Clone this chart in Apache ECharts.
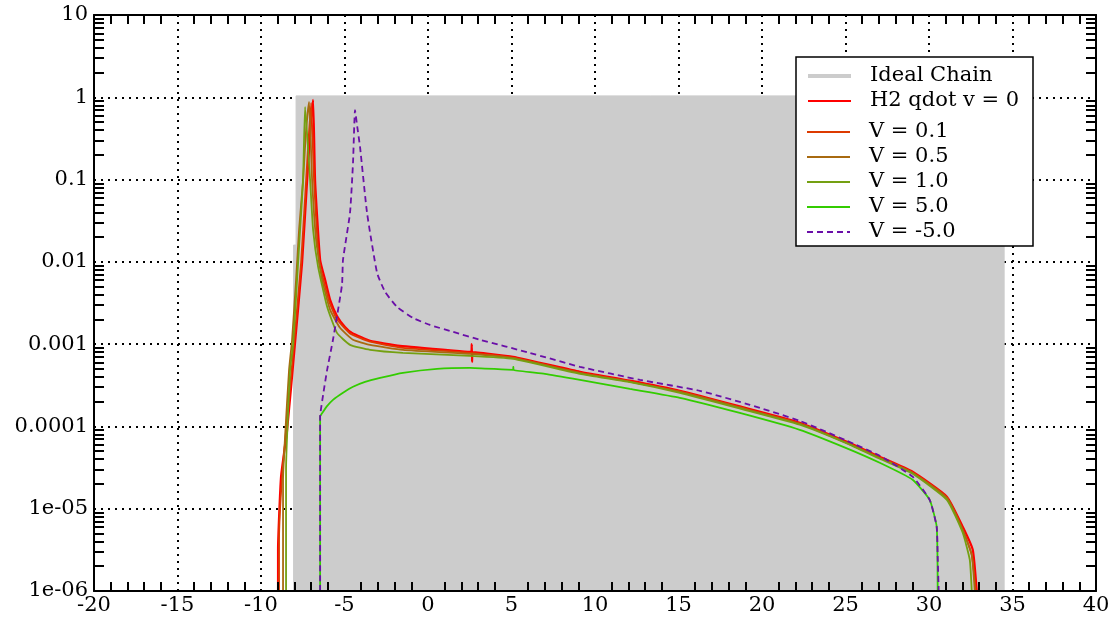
<!DOCTYPE html>
<html><head><meta charset="utf-8">
<script src="https://cdn.jsdelivr.net/npm/echarts@6/dist/echarts.min.js"></script>
<style>html,body{margin:0;padding:0;background:#fff}#c{width:1115px;height:619px}</style>
</head><body><div id="c"></div>
<script>
// ---- data ----
const seriesNames = ['Ideal Chain', 'H2 qdot v = 0', 'V = 0.1', 'V = 0.5', 'V = 1.0', 'V = 5.0', 'V = -5.0'];
const yTickLabels = ['1e-06', '1e-05', '0.0001', '0.001', '0.01', '0.1', '1', '10'];
const xRange = [-20, 40];
const yRange = [1e-6, 10];

const idealChain = [[-8.05,1e-6],[-8.05,0.016],[-7.9,0.016],[-7.9,1.04],[34.5,1.04],[34.5,1e-6]];

const h2v0 = [[-8.98,1e-6],[-8.98,3.17e-6],[-8.80,2.45e-5],[-8.44,8.85e-5],[-7.96,1.04e-3],[-7.54,9.71e-3],
  [-7.24,0.096],[-7.00,0.53],[-6.88,0.93],[-6.76,0.096],[-6.46,0.0106],[-6.16,6.04e-3],[-5.86,3.45e-3],
  [-5.45,2.2e-3],[-4.97,1.62e-3],[-4.55,1.37e-3],[-3.47,1.1e-3],[-1.68,9.53e-4],[2.51,8.05e-4],[2.60,8.0e-4],
  [2.62,1.0e-3],[2.64,6.1e-4],[2.66,8.0e-4],[5.09,7.01e-4],[9.10,4.61e-4],[12.09,3.6e-4],[15.08,2.71e-4],
  [18.67,1.75e-4],[22.26,1.11e-4],[25.01,6.6e-5],[27.05,4.28e-5],[29.02,2.81e-5],[31.07,1.4e-5],
  [32.02,6.04e-6],[32.62,3.17e-6],[32.86,1e-6]];

const v01 = [[-8.92,1e-6],[-8.92,4.2e-6],[-8.74,2.45e-5],[-8.44,1.2e-4],[-8.02,1.04e-3],[-7.60,9.71e-3],
  [-7.30,0.096],[-7.00,0.852],[-6.82,0.096],[-6.52,0.01],[-6.22,5.6e-3],[-5.92,3.3e-3],[-5.45,2.0e-3],
  [-4.67,1.35e-3],[-3.47,1.07e-3],[-1.50,9.02e-4],[2.51,7.83e-4],[5.09,6.81e-4],[9.10,4.48e-4],[12.09,3.5e-4],
  [15.08,2.64e-4],[18.67,1.7e-4],[22.26,1.08e-4],[25.01,6.4e-5],[27.05,4.16e-5],[29.02,2.74e-5],
  [31.07,1.36e-5],[32.02,5.55e-6],[32.56,2.75e-6],[32.80,1e-6]];

const v05 = [[-8.68,1e-6],[-8.68,2.25e-5],[-8.56,7.48e-5],[-8.32,4.87e-4],[-8.14,1.13e-3],[-7.90,6.04e-3],
  [-7.72,0.0245],[-7.48,0.099],[-7.30,0.401],[-7.12,0.877],[-6.94,0.099],[-6.70,0.0185],[-6.34,6.04e-3],
  [-5.86,2.61e-3],[-5.27,1.58e-3],[-4.49,1.13e-3],[-3.47,9.8e-4],[-1.50,8.52e-4],[2.51,7.62e-4],[5.09,6.81e-4],
  [9.10,4.48e-4],[12.09,3.5e-4],[15.08,2.64e-4],[18.67,1.7e-4],[22.26,1.08e-4],[25.01,6.4e-5],[27.05,4.16e-5],
  [29.02,2.74e-5],[31.07,1.36e-5],[32.02,5.55e-6],[32.56,2.75e-6],[32.74,1e-6]];

const v10 = [[-8.50,1e-6],[-8.50,2.97e-5],[-8.44,7.48e-5],[-8.26,4.87e-4],[-8.08,9.8e-4],[-7.84,6.04e-3],
  [-7.66,0.0245],[-7.48,0.099],[-7.36,0.762],[-7.06,0.099],[-6.88,0.0245],[-6.58,8.69e-3],[-6.04,2.84e-3],
  [-5.45,1.37e-3],[-4.67,9.8e-4],[-3.47,8.52e-4],[-1.50,7.83e-4],[2.51,7.21e-4],[5.09,6.62e-4],[9.10,4.36e-4],
  [12.09,3.45e-4],[15.08,2.56e-4],[18.67,1.65e-4],[22.26,1.05e-4],[25.01,6.3e-5],[27.05,4.05e-5],
  [29.02,2.66e-5],[31.07,1.28e-5],[32.02,5.1e-6],[32.44,2.4e-6],[32.56,1e-6]];

const v50 = [[-6.46,1e-6],[-6.46,1.31e-4],[-6.27,1.52e-4],[-6.06,1.75e-4],[-5.69,2.1e-4],[-5.09,2.56e-4],
  [-4.49,3.03e-4],[-3.77,3.48e-4],[-2.87,3.89e-4],[-1.50,4.48e-4],[0.54,5.01e-4],[2.51,5.15e-4],
  [5.09,4.87e-4],[5.11,5.3e-4],[5.13,4.85e-4],[7.0,4.36e-4],[9.10,3.68e-4],[12.09,2.86e-4],[15.08,2.23e-4],
  [18.67,1.46e-4],[22.26,9.1e-5],[25.01,5.5e-5],[27.05,3.62e-5],[29.02,2.25e-5],[30.04,1.28e-5],
  [30.46,6.04e-6],[30.52,1e-6]];

const vm50 = [[-6.46,1e-6],[-6.46,1.31e-4],[-6.28,2.42e-4],[-6.04,4.87e-4],[-5.69,1.13e-3],[-5.15,5.25e-3],
  [-5.09,0.0106],[-4.67,0.0393],[-4.49,0.16],[-4.37,0.70],[-4.25,0.461],[-4.07,0.249],[-3.65,0.0393],
  [-3.05,7.34e-3],[-2.57,4.32e-3],[-1.86,2.84e-3],[-0.90,2.08e-3],[0.12,1.71e-3],[1.50,1.41e-3],
  [3.11,1.13e-3],[6.10,7.83e-4],[9.10,5.3e-4],[12.69,3.68e-4],[16.28,2.71e-4],[19.27,1.83e-4],
  [22.26,1.17e-4],[25.01,6.8e-5],[27.05,4.4e-5],[29.02,2.45e-5],[30.04,1.28e-5],[30.46,6.04e-6],
  [30.52,2.6e-6],[30.58,1e-6]];

// ---- chart ----
const FONT = 'DejaVu Serif';
const chart = echarts.init(document.getElementById('c'), null, {renderer: 'canvas'});
const grid = {left: 94, right: 19, top: 15, bottom: 28};
const yFmt = v => yTickLabels[Math.round(Math.log10(v)) + 6] || '';

function lineSeries(name, data, color, width, dashed) {
  return {
    name, type: 'line', data, xAxisIndex: 0, yAxisIndex: 0, symbol: 'none', showSymbol: false,
    smooth: 0.15, z: 2, lineStyle: {color, width, type: dashed ? [6, 4] : 'solid'}, itemStyle: {color}
  };
}
const gridAxisX = {type: 'value', min: xRange[0], max: xRange[1], interval: 5, gridIndex: 0, z: 0,
  axisLine: {show: false}, axisTick: {show: false}, axisLabel: {show: false},
  splitLine: {show: true, lineStyle: {color: '#000', width: 2, type: [2, 5]}}};
const gridAxisY = {type: 'log', logBase: 10, min: yRange[0], max: yRange[1], gridIndex: 0, z: 0,
  axisLine: {show: false}, axisTick: {show: false}, axisLabel: {show: false},
  splitLine: {show: true, lineStyle: {color: '#000', width: 2, type: [2, 5]}}};

function frameX(pos, labels) {
  return {type: 'value', position: pos, min: xRange[0], max: xRange[1], interval: 5, z: 10,
    axisLine: {show: true, onZero: false, lineStyle: {color: '#000', width: 2}},
    axisTick: {show: false, inside: true},
    minorTick: {show: true, splitNumber: 5, length: 9, lineStyle: {color: '#000', width: 2}},
    axisLabel: {show: labels, color: '#000', fontFamily: FONT, fontSize: 21, margin: 4},
    splitLine: {show: false}};
}
function frameY(pos, labels) {
  return {type: 'log', logBase: 10, position: pos, min: yRange[0], max: yRange[1], z: 10,
    axisLine: {show: true, onZero: false, lineStyle: {color: '#000', width: 2}},
    axisTick: {show: false, inside: true},
    minorTick: {show: true, splitNumber: 9, length: 10, lineStyle: {color: '#000', width: 2}},
    axisLabel: {show: labels, color: '#000', fontFamily: FONT, fontSize: 21, margin: 6, formatter: yFmt},
    splitLine: {show: false}};
}

const legendCommon = {orient: 'vertical', left: 806, padding: 0, itemWidth: 43, itemHeight: 20, itemGap: 3,
  selectedMode: false, itemStyle: {opacity: 0},
  textStyle: {color: '#000', fontFamily: FONT, fontSize: 21, lineHeight: 22, padding: [0, 0, 0, 14]}};

chart.setOption({
  animation: false,
  backgroundColor: '#fff',
  grid: grid,
  xAxis: [gridAxisX, frameX('bottom', true), frameX('top', false)],
  yAxis: [gridAxisY, frameY('left', true), frameY('right', false)],
  legend: [
    Object.assign({}, legendCommon, {top: 65, data: [
      {name: seriesNames[0], lineStyle: {width: 4, color: '#cccccc'}}, seriesNames[1]]}),
    Object.assign({}, legendCommon, {top: 121, data: seriesNames.slice(2)})
  ],
  graphic: [{type: 'rect', z: 3, shape: {x: 796, y: 57, width: 237, height: 189},
    style: {fill: '#fff', stroke: '#000', lineWidth: 1.5}}],
  series: [
    {name: seriesNames[0], type: 'line', data: idealChain, xAxisIndex: 0, yAxisIndex: 0, symbol: 'none',
      z: 1, lineStyle: {color: '#cccccc', width: 1}, itemStyle: {color: '#cccccc'},
      areaStyle: {color: '#cccccc', opacity: 1, origin: 'start'}},
    lineSeries(seriesNames[1], h2v0, '#ff0000', 2.2, false),
    lineSeries(seriesNames[2], v01, '#dd3a00', 1.8, false),
    lineSeries(seriesNames[3], v05, '#a86a10', 1.8, false),
    lineSeries(seriesNames[4], v10, '#74a012', 1.8, false),
    lineSeries(seriesNames[5], v50, '#33cc00', 1.8, false),
    lineSeries(seriesNames[6], vm50, '#6a0fa8', 1.8, true)
  ]
});
</script></body></html>
